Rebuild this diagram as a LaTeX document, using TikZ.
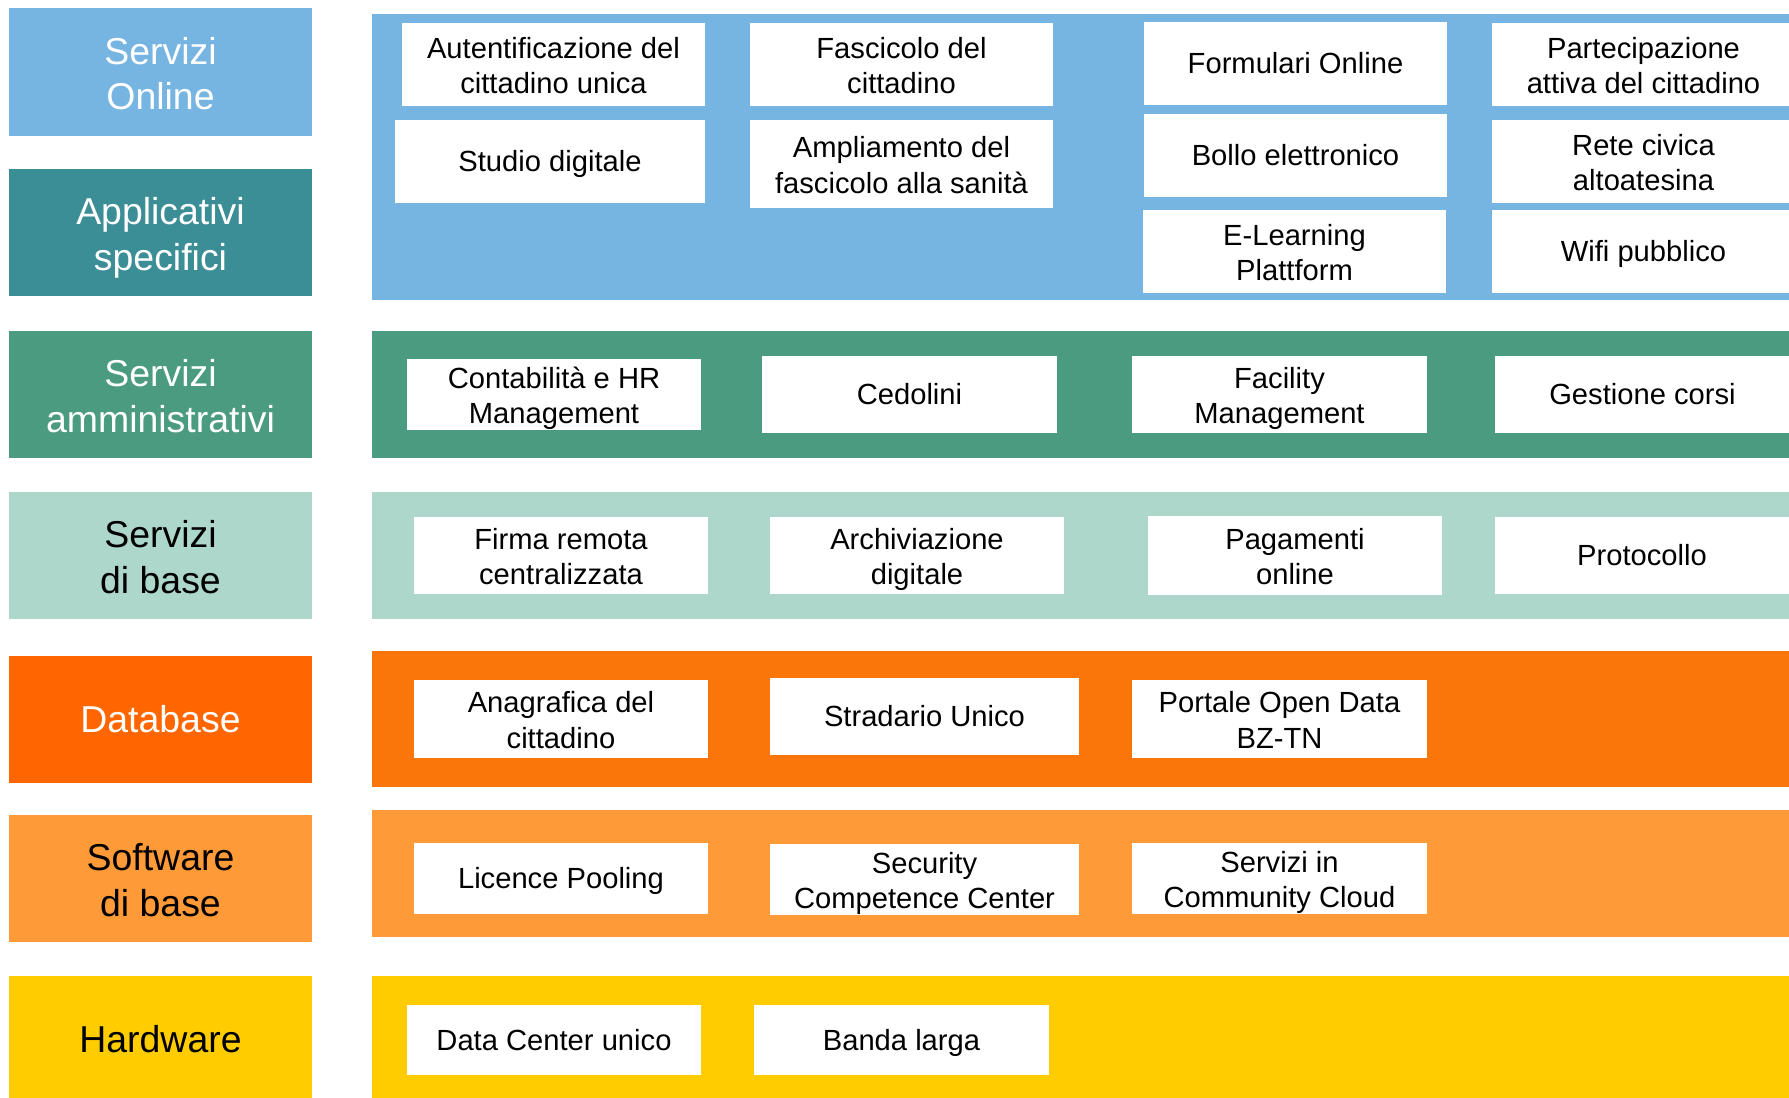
\documentclass[tikz,border=0pt]{standalone}
\usepackage{fontspec}
\setmainfont{Liberation Sans}
\usetikzlibrary{positioning}
\definecolor{online}{HTML}{76B4E2}
\definecolor{appl}{HTML}{3B8D96}
\definecolor{amm}{HTML}{4B9B80}
\definecolor{base}{HTML}{ADD7CB}
\definecolor{dblabel}{HTML}{FF6600}
\definecolor{dbband}{HTML}{FA760A}
\definecolor{soft}{HTML}{FE9A37}
\definecolor{hard}{HTML}{FFCC00}
\newcommand{\fontstrut}{\rule[-0.212em]{0pt}{1.117em}}
\newcommand{\nl}{\rule{0pt}{1.005em}\\}

\begin{document}
\begin{tikzpicture}[x=0.02cm, y=-0.02cm,
    sized/.style 2 args={minimum width=#1*0.02cm, minimum height=#2*0.02cm,
        inner sep=0pt, outer sep=0pt, align=center,
        execute at end node=\fontstrut},
    layer/.style={fill=#1, sized={303}{127},
        font=\fontsize{21.3}{25.9}\selectfont},
    band/.style={fill=#1, sized={1417}{127}},
    item/.style={fill=white, text=black,
        font=\fontsize{16.6}{20.1}\selectfont},
]
\useasboundingbox (0,0) rectangle (1789,1098);
\clip (0,0) rectangle (1789,1098);

% left column
\node (Lonline) [layer=online, sized={303}{128}, text=white] at (160.5,72) {Servizi\nl Online};
\node (Lappl) [layer=appl, text=white] at (160.5,232.5) {Applicativi\nl specifici};
\node (Lamm) [layer=amm, text=white] at (160.5,394.5) {Servizi\nl amministrativi};
\node (Lbase) [layer=base, text=black] at (160.5,555.5) {Servizi\nl di base};
\node (Ldb) [layer=dblabel, text=white] at (160.5,719.5) {Database};
\node (Lsoft) [layer=soft, text=black] at (160.5,878.5) {Software\nl di base};
\node (Lhard) [layer=hard, text=black] at (160.5,1039.5) {Hardware};

% bands
\node (Bonline) [band=online, sized={1417}{286}] at (1080.5,157) {};
\node (Bamm) [band=amm] at (1080.5,394.5) {};
\node (Bbase) [band=base] at (1080.5,555.5) {};
\node (Bdb) [band=dbband, sized={1417}{136}] at (1080.5,719) {};
\node (Bsoft) [band=soft] at (1080.5,873.5) {};
\node (Bhard) [band=hard] at (1080.5,1039.5) {};

% servizi online / applicativi
\node (auth) [item, sized={303}{83}] at (553.5,64.5) {Autentificazione del\nl cittadino unica};
\node (studio) [item, sized={310}{83}] at (550,161.5) {Studio digitale};
\node (fasc) [item, sized={303}{83}] at (901.5,64.5) {Fascicolo del\nl cittadino};
\node (ampl) [item, sized={303}{88}] at (901.5,164) {Ampliamento del\nl fascicolo alla sanità};
\node (form) [item, sized={303}{83}] at (1295.5,63.5) {Formulari Online};
\node (bollo) [item, sized={303}{83}] at (1295.5,155.5) {Bollo elettronico};
\node (elearn) [item, sized={303}{83}] at (1294.5,251.5) {E-Learning\nl Plattform};
\node (part) [item, sized={303}{83}] at (1643.5,64.5) {Partecipazione\nl attiva del cittadino};
\node (rete) [item, sized={303}{83}] at (1643.5,161.5) {Rete civica\nl altoatesina};
\node (wifi) [item, sized={303}{83}] at (1643.5,251.5) {Wifi pubblico};

% servizi amministrativi
\node (conta) [item, sized={294}{69}] at (554,394.5) {Contabilità e HR\nl Management};
\node (cedo) [item, sized={295}{77}] at (909.5,394.5) {Cedolini};
\node (facil) [item, sized={295}{77}] at (1279.5,394.5) {Facility\nl Management};
\node (gest) [item, sized={295}{77}] at (1642.5,394.5) {Gestione corsi};

% servizi di base
\node (firma) [item, sized={294}{77}] at (561,555.5) {Firma remota\nl centralizzata};
\node (archiv) [item, sized={294}{77}] at (917,555.5) {Archiviazione\nl digitale};
\node (pagam) [item, sized={294}{79}] at (1295,555.5) {Pagamenti\nl online};
\node (proto) [item, sized={294}{77}] at (1642,555.5) {Protocollo};

% database
\node (anag) [item, sized={294}{78}] at (561,719) {Anagrafica del\nl cittadino};
\node (strad) [item, sized={309}{77}] at (924.5,716.5) {Stradario Unico};
\node (portale) [item, sized={295}{78}] at (1279.5,719) {Portale Open Data\nl BZ-TN};

% software di base
\node (licence) [item, sized={294}{71}] at (561,878.5) {Licence Pooling};
\node (secur) [item, sized={309}{71}] at (924.5,879.5) {Security\nl Competence Center};
\node (cloud) [item, sized={295}{71}] at (1279.5,878.5) {Servizi in\nl Community Cloud};

% hardware
\node (dc) [item, sized={294}{70}] at (554,1040) {Data Center unico};
\node (banda) [item, sized={295}{70}] at (901.5,1040) {Banda larga};
\end{tikzpicture}
\end{document}
